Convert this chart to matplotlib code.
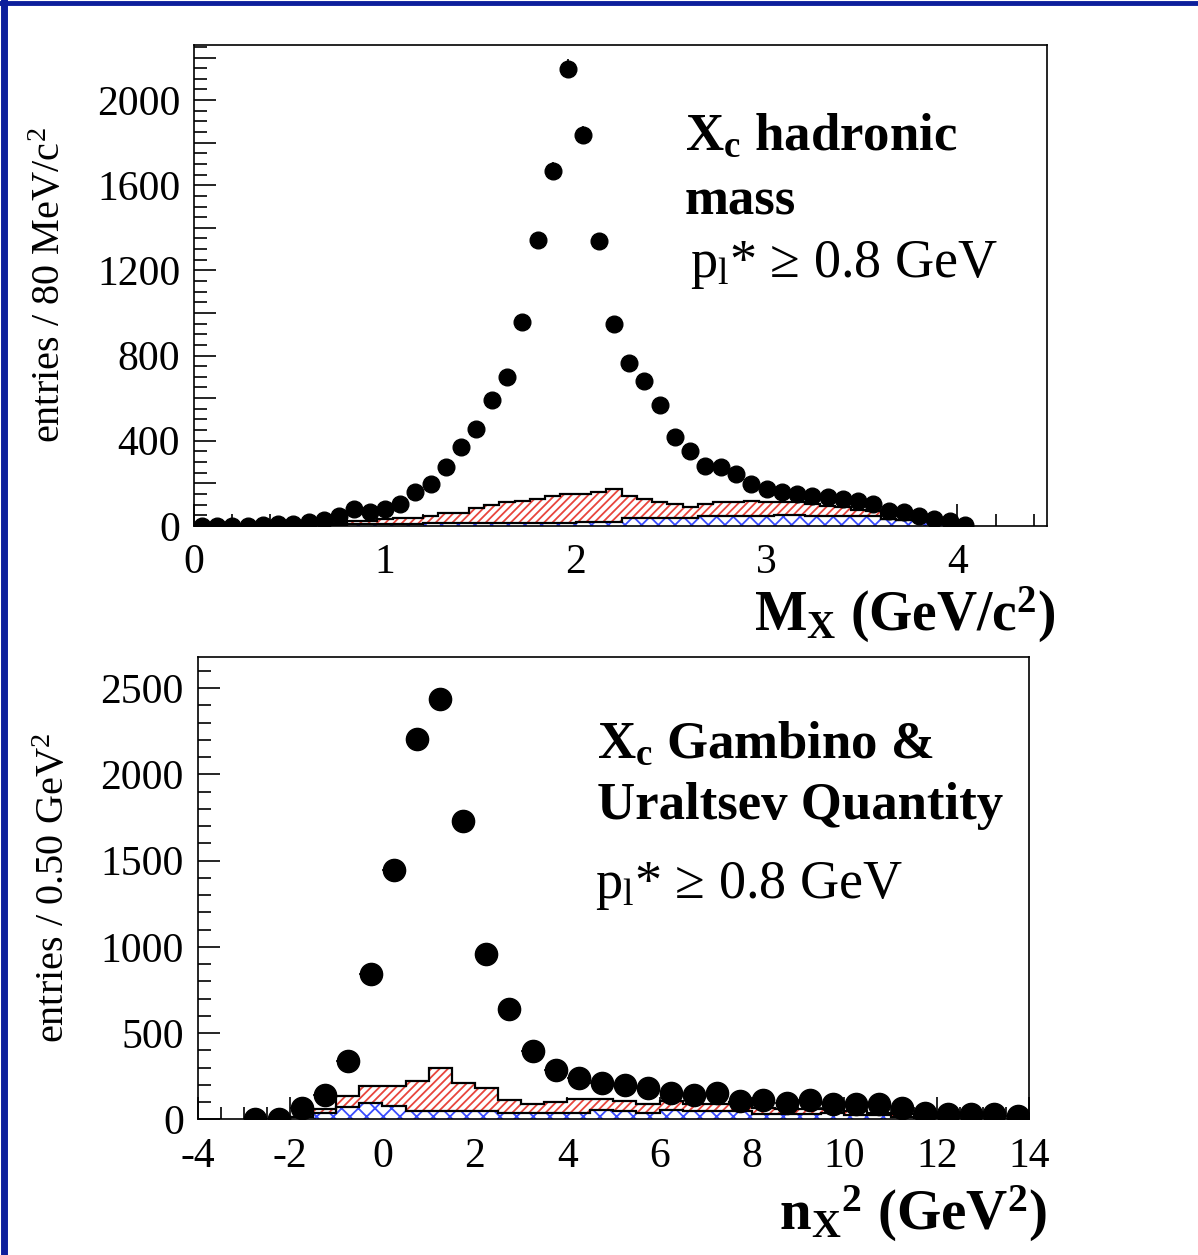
import numpy as np
import matplotlib
matplotlib.use("Agg")
import matplotlib.pyplot as plt
from matplotlib.ticker import MultipleLocator, FuncFormatter

plt.rcParams['font.family'] = ['Liberation Serif', 'DejaVu Serif']
plt.rcParams['mathtext.fontset'] = 'custom'
plt.rcParams['mathtext.rm'] = 'Liberation Serif'
plt.rcParams['mathtext.it'] = 'Liberation Serif:italic'
plt.rcParams['mathtext.bf'] = 'Liberation Serif:bold'
plt.rcParams['hatch.linewidth'] = 1.3
plt.rcParams['axes.unicode_minus'] = False

# ---- top panel: M_X, 80 MeV bins starting at 0 ----
mx_width = 0.08
mx_data = [0, 0, 0, 0, 5, 8, 11, 16, 27, 47, 79, 63, 79, 102, 157, 196, 275, 369,
           456, 592, 699, 958, 1343, 1668, 2148, 1835, 1340, 947, 765, 680, 569, 419,
           350, 283, 278, 244, 196, 173, 157, 149, 141, 134, 126, 118, 102, 71, 63,
           47, 31, 24, 5]
mx_hist_start = 0.72
mx_total = [10, 25, 25, 30, 35, 35, 48, 58, 62, 83, 99, 110, 117, 127, 138, 149, 149,
            158, 174, 142, 127, 114, 102, 88, 102, 110, 110, 119, 114, 114, 110, 102,
            94, 88, 75, 70, 30, 28, 28, 28, 10]
mx_blue = [4, 8, 8, 8, 8, 8, 12, 12, 12, 12, 12, 15, 15, 15, 15, 15, 20, 20, 20, 35,
           35, 35, 35, 35, 48, 48, 48, 48, 48, 52, 52, 48, 48, 48, 48, 48, 30, 28, 28,
           28, 10]

# ---- bottom panel: n_X^2, 0.5 GeV^2 bins starting at -3 ----
nx_width = 0.5
nx_data = [3, 5, 67, 144, 337, 842, 1448, 2202, 2436, 1727, 958, 638, 394, 285, 240,
           212, 202, 183, 154, 144, 154, 106, 115, 96, 115, 87, 87, 87, 67, 38, 29, 29,
           29, 19]
nx_hist_start = -2.0
nx_total = [15, 58, 135, 193, 193, 222, 296, 209, 180, 112, 89, 102, 116, 116, 108, 90,
            108, 88, 88, 100, 64, 62, 60, 58, 50, 40, 30, 12]
nx_blue = [12, 38, 70, 97, 77, 50, 50, 50, 50, 35, 35, 35, 35, 54, 50, 35, 54, 50, 50,
           50, 31, 31, 31, 38, 27, 27, 15, 8]

RED = '#e8453c'
BLUE = '#3a4dff'


def draw_panel(ax, start, width, data, hstart, total, blue, ms, xerr):
	centers = start + width * (np.arange(len(data)) + 0.5)
	edges = hstart + width * np.arange(len(total) + 1)
	left = edges[:-1]
	total = np.array(total)
	blue = np.array(blue)
	# red hatched component stacked on the blue one
	ax.bar(left, total - blue, width=width, bottom=blue, align='edge', color='white',
	       edgecolor=RED, hatch='////', linewidth=0, zorder=2)
	ax.bar(left, blue, width=width, align='edge', color='white',
	       edgecolor=BLUE, hatch='xx', linewidth=0, zorder=2)
	ax.stairs(total, edges, color='black', linewidth=1.6, zorder=3)
	ax.stairs(blue, edges, color='black', linewidth=1.6, zorder=3)
	ax.errorbar(centers, data, yerr=np.sqrt(data), xerr=xerr, fmt='o', color='black',
	            markersize=ms, elinewidth=1.2, capsize=0, zorder=4)


fig = plt.figure(figsize=(11.98, 12.55), dpi=100)

ax1 = fig.add_axes([0.162, 0.581, 0.712, 0.383])
draw_panel(ax1, 0.0, mx_width, mx_data, mx_hist_start, mx_total, mx_blue, 12, None)
ax1.set_xlim(0, 4.47)
ax1.set_ylim(0, 2258)
ax1.xaxis.set_major_locator(MultipleLocator(1))
ax1.xaxis.set_minor_locator(MultipleLocator(0.2))
ax1.yaxis.set_major_locator(MultipleLocator(200))
ax1.yaxis.set_minor_locator(MultipleLocator(50))
ax1.yaxis.set_major_formatter(FuncFormatter(lambda v, p: '%d' % v if v % 400 == 0 else ''))
ax1.set_ylabel('entries / 80 MeV/c$^2$', fontsize=29, labelpad=20)
ax1.text(1.01, -0.122, r'$\mathbf{M_X}$ $\mathbf{(GeV/c^2)}$', transform=ax1.transAxes,
         ha='right', va='top', fontsize=40)
ax1.text(0.575, 0.86, r'$\mathbf{X_c}$ hadronic' + '\nmass', transform=ax1.transAxes,
         fontsize=38, fontweight='bold', va='top', linespacing=1.45)
ax1.text(0.581, 0.597, r'p$_\mathrm{l}$* ≥ 0.8 GeV', transform=ax1.transAxes,
         fontsize=39, va='top')

ax2 = fig.add_axes([0.165, 0.108, 0.694, 0.3685])
draw_panel(ax2, -3.0, nx_width, nx_data, nx_hist_start, nx_total, nx_blue, 16, 0.25)
ax2.set_xlim(-4, 14)
ax2.set_ylim(0, 2680)
ax2.xaxis.set_major_locator(MultipleLocator(2))
ax2.xaxis.set_minor_locator(MultipleLocator(0.5))
ax2.yaxis.set_major_locator(MultipleLocator(500))
ax2.yaxis.set_minor_locator(MultipleLocator(100))
ax2.set_ylabel('entries / 0.50 GeV$^2$', fontsize=29, labelpad=20)
ax2.text(1.022, -0.14, r'$\mathbf{n_X}^\mathbf{2}$ $\mathbf{(GeV^2)}$', transform=ax2.transAxes,
         ha='right', va='top', fontsize=41)
ax2.text(0.48, 0.862, r'$\mathbf{X_c}$ Gambino &' + '\nUraltsev Quantity',
         transform=ax2.transAxes, fontsize=38, fontweight='bold', va='top', linespacing=1.35)
ax2.text(0.478, 0.562, r'p$_\mathrm{l}$* ≥ 0.8 GeV', transform=ax2.transAxes,
         fontsize=39, va='top')

for ax in (ax1, ax2):
	ax.tick_params(which='both', direction='in', top=False, right=False, labelsize=30,
	               width=1.2)
	ax.tick_params(axis='x', pad=13)
	ax.tick_params(axis='y', pad=10)
	ax.tick_params(which='major', length=16)
	ax.tick_params(which='minor', length=9)
	for s in ax.spines.values():
		s.set_linewidth(1.2)

# navy frame of the slide
fig.add_artist(plt.Line2D([0, 1], [0.998, 0.998], transform=fig.transFigure,
                          color='#0d1f9c', linewidth=3.5))
fig.add_artist(plt.Line2D([0.003, 0.003], [0, 1], transform=fig.transFigure,
                          color='#0d1f9c', linewidth=5))

fig.savefig('out.png', dpi=100)
